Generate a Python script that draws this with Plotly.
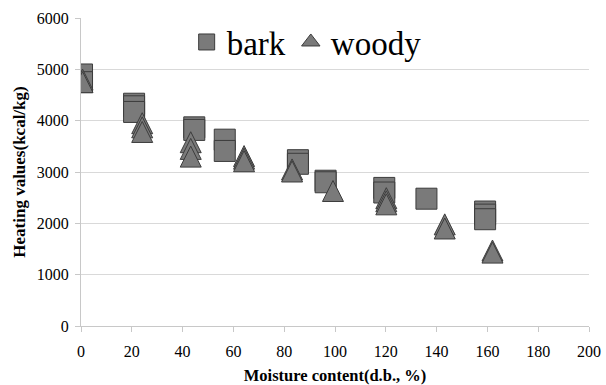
import plotly.graph_objects as go

# ---- data ----
bark_x = [0.4, 0.4, 20.9, 20.9, 20.9, 44.6, 44.6, 56.6, 56.6, 85.4, 85.4, 96.3, 96.3,
          119.4, 119.4, 136.0, 159.1, 159.1, 159.1]
bark_y = [4900, 4750, 4330, 4280, 4170, 3870, 3820, 3630, 3410, 3230, 3160, 2830, 2800,
          2690, 2600, 2480, 2230, 2170, 2080]

woody_x = [0.6, 0.6, 24.1, 24.1, 24.1, 43.2, 43.2, 43.2, 64.2, 64.2, 64.2, 83.1, 83.1,
           99.2, 120.2, 120.2, 120.2, 143.2, 143.2, 162.0, 162.0]
woody_y = [4800, 4750, 3950, 3870, 3780, 3580, 3450, 3300, 3310, 3260, 3210, 3050, 3010,
           2630, 2490, 2430, 2370, 1980, 1900, 1470, 1430]

series_names = ["bark", "woody"]
x_ticks = list(range(0, 201, 20))
y_ticks = list(range(0, 6001, 1000))
x_ticktext = [str(v) for v in x_ticks]
y_ticktext = [str(v) for v in y_ticks]

# ---- style ----
W, H = 606, 385
M = dict(l=81, r=17, t=18, b=59)
FONT = "Liberation Serif, Times New Roman, serif"
FILL = "#7a7a7a"
EDGE = "#3c3c3c"
MS = 21
plot_h = H - M["t"] - M["b"]
# arrow-up markers have their apex at the data point; shift the overlay axis so
# the triangle's box is centred on the value (Excel-like equilateral triangle)
d = (MS / 2) / (plot_h / (y_ticks[-1] - y_ticks[0]))

fig = go.Figure()
fig.add_trace(go.Scatter(
    x=bark_x, y=bark_y, mode="markers", name=series_names[0],
    marker=dict(symbol="square", size=MS, color=FILL, line=dict(color=EDGE, width=1)),
))
# legend entry for woody (normal triangle in the legend)
fig.add_trace(go.Scatter(
    x=[None], y=[None], mode="markers", name=series_names[1],
    marker=dict(symbol="triangle-up", size=MS, color=FILL, line=dict(color=EDGE, width=1)),
))
fig.add_trace(go.Scatter(
    x=woody_x, y=woody_y, mode="markers", name=series_names[1], showlegend=False,
    yaxis="y2",
    marker=dict(symbol="arrow-up", size=MS, color=FILL, line=dict(color=EDGE, width=1)),
))

fig.update_layout(
    template="none",
    width=W, height=H, margin=M,
    paper_bgcolor="white", plot_bgcolor="white",
    font=dict(family=FONT, color="black", size=16),
    showlegend=True,
    legend=dict(orientation="h", x=0.208, y=0.922, xanchor="left", yanchor="middle",
                font=dict(family=FONT, size=33, color="black"),
                bgcolor="rgba(0,0,0,0)", itemsizing="trace"),
    xaxis=dict(range=[0, 200], tickmode="array", tickvals=x_ticks, ticktext=x_ticktext,
               showgrid=False, zeroline=False, automargin=False,
               showline=True, linecolor="#c8c8c8", linewidth=1,
               ticks="outside", ticklen=5, tickcolor="#c8c8c8",
               ticklabelstandoff=6,
               tickfont=dict(family=FONT, size=16, color="black"),
               title=dict(text="<b>Moisture content(d.b., %)</b>",
                          font=dict(family=FONT, size=16.5, color="black"), standoff=11)),
    yaxis=dict(range=[0, 6000], tickmode="array", tickvals=y_ticks, ticktext=y_ticktext,
               showgrid=True, gridcolor="#d9d9d9", gridwidth=1, automargin=False,
               zeroline=False, showline=True, linecolor="#c8c8c8", linewidth=1,
               ticks="outside", ticklen=5, tickcolor="#c8c8c8",
               ticklabelstandoff=3,
               tickfont=dict(family=FONT, size=16, color="black"),
               title=dict(text="<b>Heating values(kcal/kg)</b>",
                          font=dict(family=FONT, size=17, color="black"), standoff=6)),
    yaxis2=dict(overlaying="y", range=[-d, 6000 - d], visible=False),
)

fig.write_html("out.html", config={"displayModeBar": False},
               post_script="document.body.style.margin='0';document.body.style.overflow='hidden';")
